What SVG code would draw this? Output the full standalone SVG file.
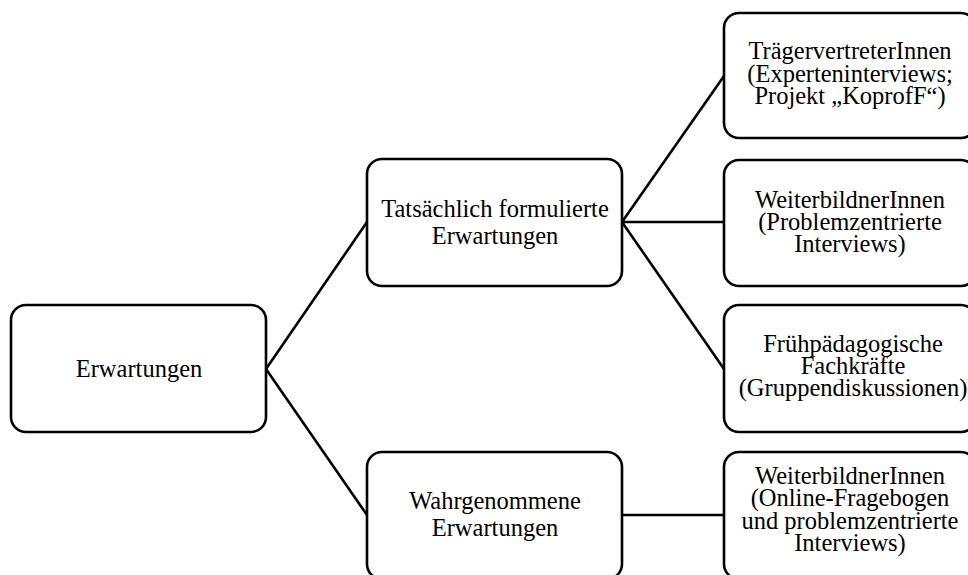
<svg xmlns="http://www.w3.org/2000/svg" width="968" height="575" viewBox="0 0 968 575">
<style>
.box{fill:#fff;stroke:#000;stroke-width:2.6}
.t{font-family:"Liberation Serif","Times New Roman",serif;font-size:24.5px;fill:#000;text-anchor:middle}
.c{stroke:#000;stroke-width:2.6;fill:none}
</style>
<rect width="968" height="575" fill="#fff"/>
<g id="connectors">
<path class="c" d="M266,369 L367,222 M266,369 L367,515"/>
<path class="c" d="M622,222 L724,76 M622,222 L724,222 M622,222 L724,369"/>
<path class="c" d="M622,515 L724,515"/>
</g>
<g id="n-erwartungen">
<rect class="box" x="11" y="305" width="255" height="127" rx="15"/>
<text class="t" x="139" y="377">Erwartungen</text>
</g>
<g id="n-tatsaechlich">
<rect class="box" x="367" y="159" width="255" height="127" rx="15"/>
<text class="t" x="495" y="217">Tatsächlich formulierte</text>
<text class="t" x="495" y="243.5">Erwartungen</text>
</g>
<g id="n-wahrgenommen">
<rect class="box" x="367" y="452" width="255" height="127" rx="15"/>
<text class="t" x="495" y="509">Wahrgenommene</text>
<text class="t" x="495" y="535.5">Erwartungen</text>
</g>
<g id="n-traeger">
<rect class="box" x="724" y="13" width="252" height="125" rx="15"/>
<text class="t" x="850" y="59">TrägervertreterInnen</text>
<text class="t" x="850" y="81.5">(Experteninterviews;</text>
<text class="t" x="850" y="104">Projekt „KoprofF“)</text>
</g>
<g id="n-weiterbildner1">
<rect class="box" x="724" y="160" width="252" height="126" rx="15"/>
<text class="t" x="850" y="207.5">WeiterbildnerInnen</text>
<text class="t" x="850" y="230">(Problemzentrierte</text>
<text class="t" x="850" y="252">Interviews)</text>
</g>
<g id="n-fruehpaed">
<rect class="box" x="724" y="305" width="252" height="127" rx="15"/>
<text class="t" x="853" y="352">Frühpädagogische</text>
<text class="t" x="853" y="374">Fachkräfte</text>
<text class="t" x="853" y="396">(Gruppendiskussionen)</text>
</g>
<g id="n-weiterbildner2">
<rect class="box" x="724" y="452" width="252" height="127" rx="15"/>
<text class="t" x="850" y="484">WeiterbildnerInnen</text>
<text class="t" x="850" y="506">(Online-Fragebogen</text>
<text class="t" x="850" y="528.5">und problemzentrierte</text>
<text class="t" x="850" y="551">Interviews)</text>
</g>
</svg>
